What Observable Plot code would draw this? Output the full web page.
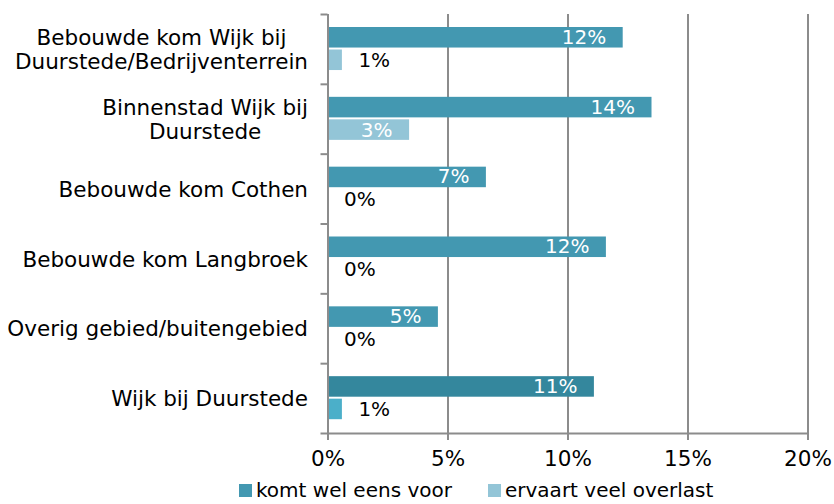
<!DOCTYPE html>
<html>
<head>
<meta charset="utf-8">
<script src="https://cdn.jsdelivr.net/npm/d3@7"></script>
<script src="https://cdn.jsdelivr.net/npm/@observablehq/plot@0.6"></script>
<style>
  html, body { margin: 0; padding: 0; background: #fff; }
  body { width: 834px; height: 504px; overflow: hidden; font-family: "DejaVu Sans", Verdana, sans-serif; }
  #legend { position: relative; height: 28px; font-size: 20px; color: #000; }
  .item { position: absolute; top: 0; height: 28px; display: flex; align-items: center; }
  .sw { width: 13px; height: 13px; margin-right: 4px; }
</style>
</head>
<body>
<div id="chart"></div>
<div id="legend"></div>
<script>
const categories = [
  "Bebouwde kom Wijk bij\nDuurstede/Bedrijventerrein",
  "Binnenstad Wijk bij\nDuurstede",
  "Bebouwde kom Cothen",
  "Bebouwde kom Langbroek",
  "Overig gebied/buitengebied",
  "Wijk bij Duurstede"
];
const seriesNames = ["komt wel eens voor", "ervaart veel overlast"];
const komtWelEensVoor = [12.3, 13.5, 6.6, 11.6, 4.6, 11.1];
const ervaartVeelOverlast = [0.6, 3.4, 0, 0, 0, 0.6];
const xTicks = [0, 5, 10, 15, 20];
const colors = ["#4398b1", "#93c5d7"];
const highlightColors = ["#34879d", "#4bafc9"];
const highlightCategory = "Wijk bij Duurstede";

const rows = [];
categories.forEach((c, i) => {
  const hl = c === highlightCategory;
  rows.push({cat: c, idx: i, s: 0, v: komtWelEensVoor[i], color: hl ? highlightColors[0] : colors[0]});
  rows.push({cat: c, idx: i, s: 1, v: ervaartVeelOverlast[i], color: hl ? highlightColors[1] : colors[1]});
});
const inside = d => d.v >= 2;
const lbl = d => Math.round(d.v) + "%";
const s0 = rows.filter(d => d.s === 0), s1 = rows.filter(d => d.s === 1);
const boundaries = d3.range(categories.length + 1);
const centers = categories.map((c, i) => i + 0.5);

const font = '"DejaVu Sans", Verdana, sans-serif';
const plot = Plot.plot({
  width: 834,
  height: 476,
  marginLeft: 327.5,
  marginRight: 26.5,
  marginTop: 14,
  marginBottom: 43,
  style: {fontFamily: font, fontSize: "20px", color: "#000", background: "#fff"},
  x: {domain: [0, 20]},
  y: {domain: [0, categories.length], reverse: true},
  marks: [
    Plot.gridX(xTicks.filter(t => t > 0), {stroke: "#8c8c8c", strokeOpacity: 1, strokeWidth: 2}),
    Plot.rectX(s0, {x1: 0, x2: "v", y1: "idx", y2: d => d.idx + 1, fill: "color", insetTop: 13, insetBottom: 36.3}),
    Plot.rectX(s1, {x1: 0, x2: "v", y1: "idx", y2: d => d.idx + 1, fill: "color", insetTop: 35.5, insetBottom: 13.8}),
    Plot.ruleX([0], {stroke: "#8c8c8c", strokeWidth: 2}),
    Plot.ruleY([categories.length], {stroke: "#8c8c8c", strokeWidth: 2}),
    Plot.axisY({ticks: boundaries, tickFormat: () => "", tickSize: 7, stroke: "#8c8c8c", strokeWidth: 2, label: null}),
    Plot.axisY({ticks: centers, tickFormat: (d) => categories[Math.floor(d)], tickSize: 0, tickPadding: 20, fontSize: 21.5, lineHeight: 1.12, label: null, className: "catlabels"}),
    Plot.axisX({ticks: xTicks, tickFormat: d => d + "%", tickSize: 7, tickPadding: 10, stroke: "#8c8c8c", strokeWidth: 2, fontSize: 21.5, label: null}),
    Plot.text(s0.filter(inside), {x: "v", y: d => d.idx + 0.5, text: lbl, dy: -12, dx: -17, textAnchor: "end", fill: "white", fontSize: 20}),
    Plot.text(s0.filter(d => !inside(d)), {x: "v", y: d => d.idx + 0.5, text: lbl, dy: -12, dx: 16, textAnchor: "start", fill: "black", fontSize: 20}),
    Plot.text(s1.filter(inside), {x: "v", y: d => d.idx + 0.5, text: lbl, dy: 11, dx: -17, textAnchor: "end", fill: "white", fontSize: 20}),
    Plot.text(s1.filter(d => !inside(d)), {x: "v", y: d => d.idx + 0.5, text: lbl, dy: 11, dx: 16, textAnchor: "start", fill: "black", fontSize: 20})
  ]
});
document.getElementById("chart").appendChild(plot);

// center multi-line category labels within their block (right edge kept)
plot.querySelectorAll("g.catlabels text, g[aria-label='y-axis tick label'] text").forEach(t => {
  const spans = t.querySelectorAll("tspan");
  if (spans.length < 2) return;
  let w = 0;
  spans.forEach(s => { w = Math.max(w, s.getComputedTextLength()); });
  t.setAttribute("text-anchor", "middle");
  spans.forEach(s => s.setAttribute("x", -w / 2));
});

// legend
const legend = document.getElementById("legend");
const legendX = [239, 488];
seriesNames.forEach((name, i) => {
  const it = document.createElement("div");
  it.className = "item";
  it.style.left = legendX[i] + "px";
  const sw = document.createElement("span");
  sw.className = "sw";
  sw.style.background = colors[i];
  const tx = document.createElement("span");
  tx.textContent = name;
  it.appendChild(sw); it.appendChild(tx);
  legend.appendChild(it);
});
</script>
</body>
</html>
